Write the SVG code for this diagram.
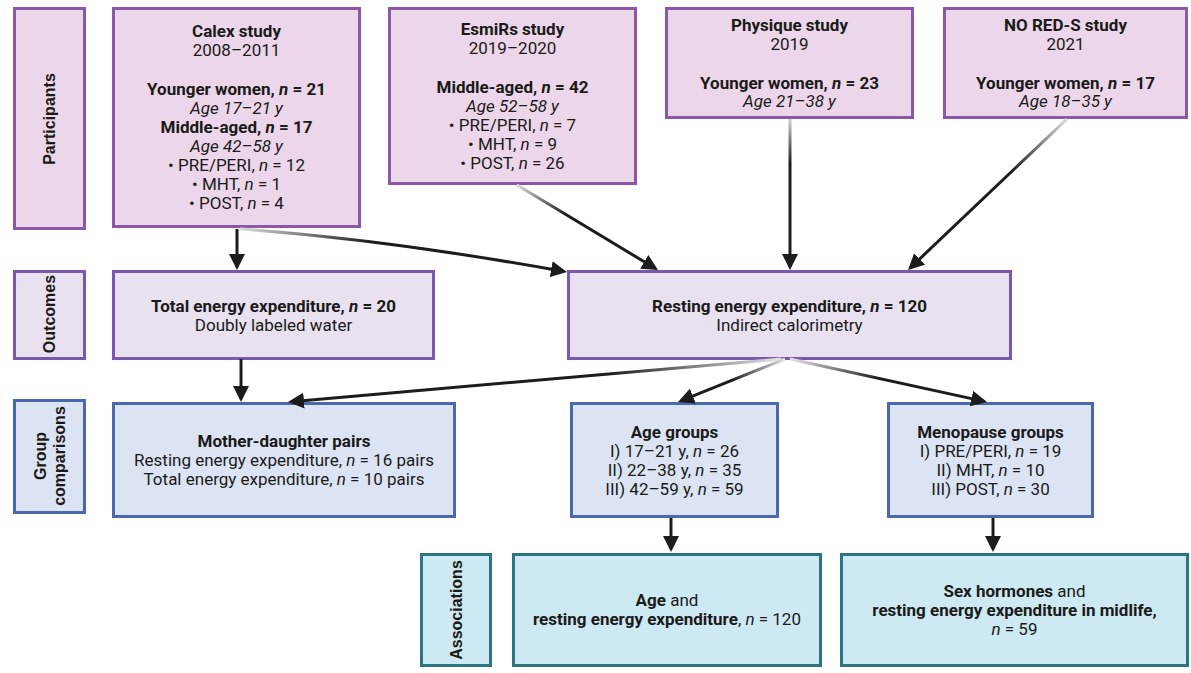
<svg xmlns="http://www.w3.org/2000/svg" width="1191" height="673" viewBox="0 0 1191 673">
<style>
.t{font-family:Roboto,"Liberation Sans",sans-serif;fill:#1a1a1a;text-anchor:middle;font-size:17px}
.s{font-size:17px}
.b{font-weight:700}
.i{font-style:italic}
.lab{font-family:"Liberation Sans",Arial,sans-serif;font-weight:700;font-size:16px;text-anchor:middle;fill:#1a1a1a}
.pp{fill:#ecd6e9;stroke:#8b57a6;stroke-width:3}
.oc{fill:#e9e1f0;stroke:#7b58ad;stroke-width:3}
.gc{fill:#dce4f3;stroke:#4b68ad;stroke-width:3}
.as{fill:#cde9f1;stroke:#2b7582;stroke-width:3}
.c{fill:none;stroke-width:3}
</style>
<defs>
<marker id="ah" viewBox="0 0 16 16" refX="13" refY="8" markerWidth="16" markerHeight="16" markerUnits="userSpaceOnUse" orient="auto">
<path d="M0,0 L16,8 L0,16 z" fill="#1c1c1c"/>
</marker>
<linearGradient id="g2" gradientUnits="userSpaceOnUse" x1="240" y1="229" x2="567" y2="272"><stop offset="0" stop-color="#dcdcdc"/><stop offset="0.4" stop-color="#1c1c1c"/><stop offset="1" stop-color="#1c1c1c"/></linearGradient>
<linearGradient id="g3" gradientUnits="userSpaceOnUse" x1="517" y1="185" x2="658" y2="270"><stop offset="0" stop-color="#dcdcdc"/><stop offset="0.35" stop-color="#1c1c1c"/><stop offset="1" stop-color="#1c1c1c"/></linearGradient>
<linearGradient id="g4" gradientUnits="userSpaceOnUse" x1="790" y1="119" x2="790" y2="270"><stop offset="0" stop-color="#cfcfcf"/><stop offset="0.3" stop-color="#1c1c1c"/><stop offset="1" stop-color="#1c1c1c"/></linearGradient>
<linearGradient id="g5" gradientUnits="userSpaceOnUse" x1="1067" y1="119" x2="908" y2="270"><stop offset="0" stop-color="#dcdcdc"/><stop offset="0.35" stop-color="#1c1c1c"/><stop offset="1" stop-color="#1c1c1c"/></linearGradient>
<linearGradient id="g7" gradientUnits="userSpaceOnUse" x1="781" y1="359" x2="288" y2="402"><stop offset="0" stop-color="#e6e6e6"/><stop offset="0.35" stop-color="#1c1c1c"/><stop offset="1" stop-color="#1c1c1c"/></linearGradient>
<linearGradient id="g8" gradientUnits="userSpaceOnUse" x1="785" y1="359" x2="678" y2="402"><stop offset="0" stop-color="#e6e6e6"/><stop offset="0.5" stop-color="#1c1c1c"/><stop offset="1" stop-color="#1c1c1c"/></linearGradient>
<linearGradient id="g9" gradientUnits="userSpaceOnUse" x1="790" y1="359" x2="987" y2="402"><stop offset="0" stop-color="#e6e6e6"/><stop offset="0.45" stop-color="#1c1c1c"/><stop offset="1" stop-color="#1c1c1c"/></linearGradient>
</defs>

<g id="label-participants">
<rect class="pp" x="14.5" y="8.5" width="70" height="220"/>
<text class="lab" transform="translate(55,119) rotate(-90)">Participants</text>
</g>
<g id="calex">
<rect class="pp" x="113.5" y="8.5" width="246" height="218"/>
<text class="t b" x="236.5" y="37">Calex study</text>
<text class="t" x="236.5" y="56">2008–2011</text>
<text class="t b" x="236.5" y="95">Younger women, <tspan class="i">n</tspan> = 21</text>
<text class="t i" x="236.5" y="114">Age 17–21 y</text>
<text class="t b" x="236.5" y="133">Middle-aged, <tspan class="i">n</tspan> = 17</text>
<text class="t i" x="236.5" y="152">Age 42–58 y</text>
<text class="t" x="236.5" y="171">• PRE/PERI, <tspan class="i">n</tspan> = 12</text>
<text class="t" x="236.5" y="190">• MHT, <tspan class="i">n</tspan> = 1</text>
<text class="t" x="236.5" y="209">• POST, <tspan class="i">n</tspan> = 4</text>
</g>
<g id="esmirs">
<rect class="pp" x="389.5" y="8.5" width="246" height="175"/>
<text class="t b" x="512.5" y="35">EsmiRs study</text>
<text class="t" x="512.5" y="54">2019–2020</text>
<text class="t b" x="512.5" y="93">Middle-aged, <tspan class="i">n</tspan> = 42</text>
<text class="t i" x="512.5" y="112">Age 52–58 y</text>
<text class="t" x="512.5" y="131">• PRE/PERI, <tspan class="i">n</tspan> = 7</text>
<text class="t" x="512.5" y="150">• MHT, <tspan class="i">n</tspan> = 9</text>
<text class="t" x="512.5" y="169">• POST, <tspan class="i">n</tspan> = 26</text>
</g>
<g id="physique">
<rect class="pp" x="666.5" y="8.5" width="246" height="109"/>
<text class="t b" x="789.5" y="31">Physique study</text>
<text class="t" x="789.5" y="50">2019</text>
<text class="t b" x="789.5" y="89">Younger women, <tspan class="i">n</tspan> = 23</text>
<text class="t i" x="789.5" y="107">Age 21–38 y</text>
</g>
<g id="nored-s">
<rect class="pp" x="944.5" y="8.5" width="242" height="109"/>
<text class="t b" x="1065.5" y="31">NO RED-S study</text>
<text class="t" x="1065.5" y="50">2021</text>
<text class="t b" x="1065.5" y="89">Younger women, <tspan class="i">n</tspan> = 17</text>
<text class="t i" x="1065.5" y="107">Age 18–35 y</text>
</g>

<g id="label-outcomes">
<rect class="oc" x="14.5" y="271.5" width="70" height="87"/>
<text class="lab" transform="translate(55,314) rotate(-90)">Outcomes</text>
</g>
<g id="tee">
<rect class="oc" x="113.5" y="271.5" width="320" height="87"/>
<text class="t s b" x="273.5" y="312">Total energy expenditure, <tspan class="i">n</tspan> = 20</text>
<text class="t s" x="273.5" y="331">Doubly labeled water</text>
</g>
<g id="ree">
<rect class="oc" x="568.5" y="271.5" width="442" height="87"/>
<text class="t s b" x="789.5" y="312">Resting energy expenditure, <tspan class="i">n</tspan> = 120</text>
<text class="t s" x="789.5" y="331">Indirect calorimetry</text>
</g>

<g id="label-group">
<rect class="gc" x="14.5" y="400.5" width="70" height="112"/>
<text class="lab" transform="translate(46,456) rotate(-90)">Group</text>
<text class="lab" transform="translate(65,456) rotate(-90)">comparisons</text>
</g>
<g id="mother-daughter">
<rect class="gc" x="113.5" y="403.5" width="341" height="113"/>
<text class="t s b" x="284" y="447">Mother-daughter pairs</text>
<text class="t s" x="284" y="466">Resting energy expenditure, <tspan class="i">n</tspan> = 16 pairs</text>
<text class="t s" x="284" y="485">Total energy expenditure, <tspan class="i">n</tspan> = 10 pairs</text>
</g>
<g id="age-groups">
<rect class="gc" x="571.5" y="403.5" width="206" height="113"/>
<text class="t s b" x="674.5" y="438">Age groups</text>
<text class="t s" x="674.5" y="457">I) 17–21 y, <tspan class="i">n</tspan> = 26</text>
<text class="t s" x="674.5" y="476">II) 22–38 y, <tspan class="i">n</tspan> = 35</text>
<text class="t s" x="674.5" y="495">III) 42–59 y, <tspan class="i">n</tspan> = 59</text>
</g>
<g id="menopause-groups">
<rect class="gc" x="888.5" y="403.5" width="204" height="113"/>
<text class="t s b" x="990.5" y="438">Menopause groups</text>
<text class="t s" x="990.5" y="457">I) PRE/PERI, <tspan class="i">n</tspan> = 19</text>
<text class="t s" x="990.5" y="476">II) MHT, <tspan class="i">n</tspan> = 10</text>
<text class="t s" x="990.5" y="495">III) POST, <tspan class="i">n</tspan> = 30</text>
</g>

<g id="label-associations">
<rect class="as" x="421.5" y="554.5" width="69" height="111"/>
<text class="lab" transform="translate(462,610) rotate(-90)">Associations</text>
</g>
<g id="assoc-age">
<rect class="as" x="513.5" y="554.5" width="307" height="111"/>
<text class="t s" x="667" y="606"><tspan class="b">Age</tspan> and</text>
<text class="t s" x="667" y="625"><tspan class="b">resting energy expenditure</tspan>, <tspan class="i">n</tspan> = 120</text>
</g>
<g id="assoc-sex">
<rect class="as" x="841.5" y="554.5" width="346" height="111"/>
<text class="t s" x="1014.5" y="597"><tspan class="b">Sex hormones</tspan> and</text>
<text class="t s b" x="1014.5" y="616">resting energy expenditure in midlife,</text>
<text class="t s" x="1014.5" y="635"><tspan class="i">n</tspan> = 59</text>
</g>

<g id="connectors">
<path class="c" stroke="#1c1c1c" d="M237,229 L237,267" marker-end="url(#ah)"/>
<path class="c" stroke="url(#g2)" d="M240,229 Q390,240 564,271.5" marker-end="url(#ah)"/>
<path class="c" stroke="url(#g3)" d="M517,185 L655.4,268.5" marker-end="url(#ah)"/>
<path class="c" stroke="url(#g4)" d="M790,119 L790,267" marker-end="url(#ah)"/>
<path class="c" stroke="url(#g5)" d="M1067,119 L910.2,267.9" marker-end="url(#ah)"/>
<path class="c" stroke="#1c1c1c" d="M241,359 L241,399" marker-end="url(#ah)"/>
<path class="c" stroke="url(#g7)" d="M781,359 L291,401.7" marker-end="url(#ah)"/>
<path class="c" stroke="url(#g8)" d="M785,359 L680.8,400.9" marker-end="url(#ah)"/>
<path class="c" stroke="url(#g9)" d="M790,359 L984.1,401.4" marker-end="url(#ah)"/>
<path class="c" stroke="#1c1c1c" d="M671,518 L671,549" marker-end="url(#ah)"/>
<path class="c" stroke="#1c1c1c" d="M993,518 L993,549" marker-end="url(#ah)"/>
</g>
</svg>
